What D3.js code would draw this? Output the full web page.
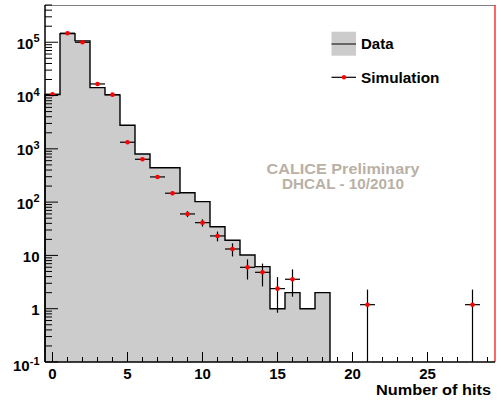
<!DOCTYPE html>
<html><head><meta charset="utf-8">
<script src="https://cdn.jsdelivr.net/npm/d3@7"></script>
<style>
html,body{margin:0;padding:0;background:#fff;}
svg{display:block;font-family:"Liberation Sans",Arial,Helvetica,sans-serif;font-weight:bold;}
</style></head>
<body><svg id="c" width="501" height="401"></svg>
<script>
// Data histogram (bins centred on 0..18)
const dataBins = [0,1,2,3,4,5,6,7,8,9,10,11,12,13,14,15,16,17,18];
const dataCounts = [10400,145000,106000,14100,10300,2770,800,443,443,150,102,34.6,19.2,10.2,6.15,1,2,1,2];
// Simulation points
const simBins = [0,1,2,3,4,5,6,7,8,9,10,11,12,13,14,15,16,21,28];
const simValues = [10600,148000,100000,16500,10400,1330,637,297,147,60,41.2,23.2,13.2,5.98,4.82,2.38,3.57,1.19,1.19];
const simErrors = [103,385,316,128,102,36.5,25.2,17.2,12.1,7.75,6.42,4.82,3.63,2.45,2.2,1.54,1.89,1.09,1.09];
// Axis ticks / labels
const xMajorTicks = [0,5,10,15,20,25];
const yDecades = [0.1,1,10,100,1000,10000,100000];
const yLabels = [["10","-1"],["1",""],["10",""],["10","2"],["10","3"],["10","4"],["10","5"]];
const legendItems = ["Data","Simulation"];
const watermark = ["CALICE Preliminary","DHCAL - 10/2010"];
const xTitle = "Number of hits";

const svg = d3.select("#c");
const L=45, R=495, T=5, B=362;
const x = d3.scaleLinear().domain([-0.5,29.5]).range([L,R]);
const y = d3.scaleLog().domain([0.1,5e5]).range([B,T]);
const ymin = 0.1;

// histogram area
const pts = dataBins.map((b,i)=>[b-0.5,dataCounts[i]]);
pts.push([dataBins[dataBins.length-1]+0.5, dataCounts[dataCounts.length-1]]);
const area = d3.area().curve(d3.curveStepAfter).x(d=>x(d[0])).y0(y(ymin)).y1(d=>y(d[1]));
svg.append("path").attr("d",area(pts)).attr("fill","#cccccc");
const lineV = d3.line().x(d=>x(d[0])).y(d=>y(d[1]));
const op=[];
op.push([pts[0][0],ymin]);
for(let i=0;i<dataBins.length;i++){op.push([dataBins[i]-0.5,dataCounts[i]]);op.push([dataBins[i]+0.5,dataCounts[i]]);}
op.push([dataBins[dataBins.length-1]+0.5,ymin]);
svg.append("path").attr("d",lineV(op)).attr("fill","none").attr("stroke","#000").attr("stroke-width",1.4);

// simulation error bars + points
const sg = svg.append("g");
simBins.forEach((b,i)=>{
  const v=simValues[i], e=simErrors[i];
  sg.append("line").attr("x1",x(b-0.5)).attr("x2",x(b+0.5)).attr("y1",y(v)).attr("y2",y(v)).attr("stroke","#000").attr("stroke-width",1.2);
  const lo=Math.max(v-e,ymin);
  sg.append("line").attr("x1",x(b)).attr("x2",x(b)).attr("y1",y(lo)).attr("y2",y(v+e)).attr("stroke","#000").attr("stroke-width",1.2);
});
sg.selectAll("circle").data(simBins).join("circle").attr("cx",d=>x(d)).attr("cy",(d,i)=>y(simValues[i])).attr("r",2.3).attr("fill","#ff0000");

// frame
svg.append("line").attr("x1",L).attr("x2",R).attr("y1",T+0.5).attr("y2",T+0.5).attr("stroke","#808080").attr("stroke-width",1);
svg.append("line").attr("x1",R).attr("x2",R).attr("y1",T).attr("y2",B).attr("stroke","#ff0000").attr("stroke-width",1.2);

// x axis
const xa = svg.append("g");
xa.append("line").attr("x1",L).attr("x2",R).attr("y1",B).attr("y2",B).attr("stroke","#000").attr("stroke-width",1.5);
d3.range(0,30).forEach(t=>{
  const maj = xMajorTicks.includes(t);
  xa.append("line").attr("x1",x(t)).attr("x2",x(t)).attr("y1",B).attr("y2",B-(maj?10:5)).attr("stroke","#000").attr("stroke-width",1);
});
xa.selectAll("text").data(xMajorTicks).join("text").attr("x",d=>x(d)).attr("y",378.5).attr("text-anchor","middle").attr("font-size",15).attr("fill","#000").text(d=>d);
svg.append("text").attr("x",491).attr("y",395).attr("text-anchor","end").attr("font-size",15)
  .attr("textLength",115).attr("lengthAdjust","spacingAndGlyphs").attr("fill","#000").text(xTitle);

// y axis
const ya = svg.append("g");
ya.append("line").attr("x1",L).attr("x2",L).attr("y1",T).attr("y2",B).attr("stroke","#000").attr("stroke-width",1.5);
yDecades.forEach(dv=>{
  ya.append("line").attr("x1",L).attr("x2",L+13).attr("y1",y(dv)).attr("y2",y(dv)).attr("stroke","#000");
  for(let k=2;k<=9;k++){
    const v=dv*k; if(v>5e5) break;
    ya.append("line").attr("x1",L).attr("x2",L+7).attr("y1",y(v)).attr("y2",y(v)).attr("stroke","#000");
  }
});
yDecades.forEach((dv,i)=>{
  const yy = y(dv) + (i===0?9:6.5);
  const t = ya.append("text").attr("x",39.5).attr("y",yy).attr("text-anchor","end").attr("font-size",15).attr("fill","#000");
  t.append("tspan").text(yLabels[i][0]);
  if(yLabels[i][1]) t.append("tspan").attr("dy",-6.5).attr("font-size",11).text(yLabels[i][1]);
});

// legend
const lg = svg.append("g");
lg.append("rect").attr("x",331.5).attr("y",31.7).attr("width",24.5).attr("height",24).attr("fill","#cccccc");
lg.append("line").attr("x1",331.5).attr("x2",356).attr("y1",44).attr("y2",44).attr("stroke","#222").attr("stroke-width",1.2);
lg.append("line").attr("x1",331.5).attr("x2",356).attr("y1",77.3).attr("y2",77.3).attr("stroke","#000").attr("stroke-width",1.2);
lg.append("circle").attr("cx",344).attr("cy",77.3).attr("r",2.2).attr("fill","#ff0000");
const legW=[32.5,78.5];
lg.selectAll("text").data(legendItems).join("text").attr("x",361).attr("y",(d,i)=>i===0?49:83).attr("font-size",14.5)
  .attr("textLength",(d,i)=>legW[i]).attr("lengthAdjust","spacingAndGlyphs").attr("fill","#000").text(d=>d);

// watermark
const wmW=[153,122];
svg.selectAll("text.wm").data(watermark).join("text").attr("class","wm").attr("x",343).attr("y",(d,i)=>i===0?174:189).attr("text-anchor","middle").attr("font-size",14.5)
  .attr("textLength",(d,i)=>wmW[i]).attr("lengthAdjust","spacingAndGlyphs").attr("fill","#bab0a6").text(d=>d);
</script></body></html>
